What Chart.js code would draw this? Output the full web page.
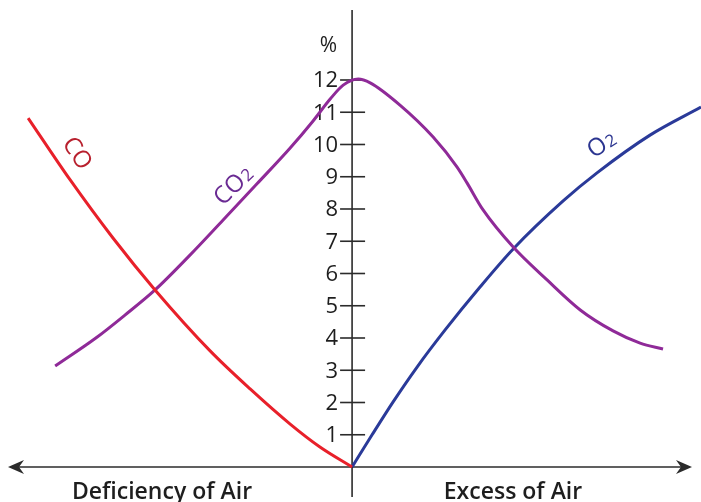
<!DOCTYPE html>
<html>
<head>
<meta charset="utf-8">
<title>Flue gas vs air</title>
<script src="https://cdn.jsdelivr.net/npm/chart.js@4.4.1/dist/chart.umd.min.js"></script>
<style>
  html, body { margin: 0; padding: 0; background: #fff; }
  canvas { display: block; }
</style>
</head>
<body>
<canvas id="chart" width="701" height="502"></canvas>
<script>
// Data (x: air ratio, negative = deficiency, positive = excess; y: %)
const coX = [-9.47, -8.24, -6.99, -5.76, -4.15, -2.98, -1.81, -0.94, 0];
const coY = [10.82, 8.90, 7.10, 5.49, 3.60, 2.42, 1.33, 0.62, 0];

const co2X = [-8.68, -7.45, -6.64, -5.76, -4.74, -3.77, -2.78, -1.81, -1.14, -0.64, -0.26, 0.18, 0.53, 1.40, 2.37, 3.07, 3.36, 3.83, 4.71, 5.70, 6.67, 7.63, 8.42, 9.09];
const co2Y = [3.13, 4.03, 4.71, 5.49, 6.57, 7.66, 8.78, 9.89, 10.73, 11.41, 11.84, 12.03, 11.91, 11.22, 10.23, 9.30, 8.81, 7.97, 6.82, 5.80, 4.87, 4.22, 3.84, 3.66];

const o2X = [0, 0.58, 1.20, 1.90, 2.72, 3.74, 4.71, 6.17, 7.16, 8.71, 10.2];
const o2Y = [0, 0.99, 2.02, 3.10, 4.25, 5.58, 6.76, 8.25, 9.12, 10.29, 11.16];

const yTicks = [1, 2, 3, 4, 5, 6, 7, 8, 9, 10, 11, 12];
const yUnit = '%';
const leftTitle = 'Deficiency of Air';
const rightTitle = 'Excess of Air';

const toPoints = (xs, ys) => xs.map((x, i) => ({ x: x, y: ys[i] }));

const axisColor = '#2b2b2b';
const FONT = '"Open Sans", "Noto Sans", sans-serif';

// Draw the cross-shaped axes with arrows and ticks
const axesPlugin = {
  id: 'axes',
  beforeDatasetsDraw(chart) {
    const ctx = chart.ctx;
    const xs = chart.scales.x;
    const ys = chart.scales.y;
    const x0 = xs.getPixelForValue(0);
    const y0 = ys.getPixelForValue(0);

    ctx.save();
    ctx.strokeStyle = axisColor;
    ctx.lineWidth = 1.6;

    // vertical axis
    ctx.beginPath();
    ctx.moveTo(x0, 10);
    ctx.lineTo(x0, 497);
    ctx.stroke();

    // horizontal axis
    const left = 10, right = 690;
    ctx.beginPath();
    ctx.moveTo(left + 4, y0);
    ctx.lineTo(right - 4, y0);
    ctx.stroke();

    // arrow heads
    ctx.fillStyle = axisColor;
    ctx.beginPath();
    ctx.moveTo(left - 2, y0);
    ctx.lineTo(left + 14, y0 - 7);
    ctx.lineTo(left + 9, y0);
    ctx.lineTo(left + 14, y0 + 7);
    ctx.closePath();
    ctx.fill();
    ctx.beginPath();
    ctx.moveTo(right + 2, y0);
    ctx.lineTo(right - 14, y0 - 7);
    ctx.lineTo(right - 9, y0);
    ctx.lineTo(right - 14, y0 + 7);
    ctx.closePath();
    ctx.fill();

    // ticks and labels
    ctx.font = '22px ' + FONT;
    ctx.textAlign = 'right';
    ctx.textBaseline = 'middle';
    ctx.fillStyle = '#1e1e1e';
    yTicks.forEach(v => {
      const py = ys.getPixelForValue(v);
      ctx.beginPath();
      ctx.moveTo(x0 - 12, py);
      ctx.lineTo(x0 + 13, py);
      ctx.stroke();
      ctx.fillText(String(v), x0 - 14, py + 1);
    });
    ctx.font = '21px ' + FONT;
    ctx.fillText(yUnit, x0 - 15, ys.getPixelForValue(13.04));

    // bottom titles
    ctx.font = '600 23px ' + FONT;
    ctx.textAlign = 'center';
    ctx.textBaseline = 'alphabetic';
    ctx.fillText(leftTitle, 162, 499);
    ctx.fillText(rightTitle, 513, 499);
    ctx.restore();
  },
  afterDatasetsDraw(chart) {
    const ctx = chart.ctx;
    // rotated curve labels, with a smaller "2"
    const label = (txt, sub, cx, cy, angle, color) => {
      ctx.save();
      ctx.translate(cx, cy);
      ctx.rotate(angle * Math.PI / 180);
      ctx.fillStyle = color;
      ctx.textBaseline = 'middle';
      ctx.font = '24px ' + FONT;
      const w1 = ctx.measureText(txt).width;
      ctx.font = '17px ' + FONT;
      const w2 = sub ? ctx.measureText(sub).width : 0;
      const start = -(w1 + w2 + 1) / 2;
      ctx.font = '24px ' + FONT;
      ctx.textAlign = 'left';
      ctx.fillText(txt, start, 0);
      if (sub) {
        ctx.font = '17px ' + FONT;
        ctx.fillText(sub, start + w1 + 1, 2);
      }
      ctx.restore();
    };
    label('CO', '', 77, 154, 57, '#b8202e');
    label('CO', '2', 234, 186, -44, '#6a2b93');
    label('O', '2', 602, 145, -33, '#2b3590');
  }
};

new Chart(document.getElementById('chart'), {
  type: 'line',
  data: {
    datasets: [
      {
        label: 'CO',
        data: toPoints(coX, coY),
        borderColor: '#e8202a',
        borderWidth: 3,
        pointRadius: 0,
        cubicInterpolationMode: 'monotone'
      },
      {
        label: 'CO2',
        data: toPoints(co2X, co2Y),
        borderColor: '#8f2a98',
        borderWidth: 3,
        pointRadius: 0,
        cubicInterpolationMode: 'monotone'
      },
      {
        label: 'O2',
        data: toPoints(o2X, o2Y),
        borderColor: '#2a3a99',
        borderWidth: 3,
        pointRadius: 0,
        cubicInterpolationMode: 'monotone'
      }
    ]
  },
  options: {
    responsive: false,
    animation: false,
    devicePixelRatio: 1,
    layout: { padding: { left: 10, right: 0, top: 10, bottom: 5 } },
    scales: {
      x: { type: 'linear', min: -10, max: 10.2, display: false },
      y: { type: 'linear', min: -0.93, max: 14.17, display: false }
    },
    plugins: {
      legend: { display: false },
      tooltip: { enabled: false }
    }
  },
  plugins: [axesPlugin]
});
</script>
</body>
</html>
